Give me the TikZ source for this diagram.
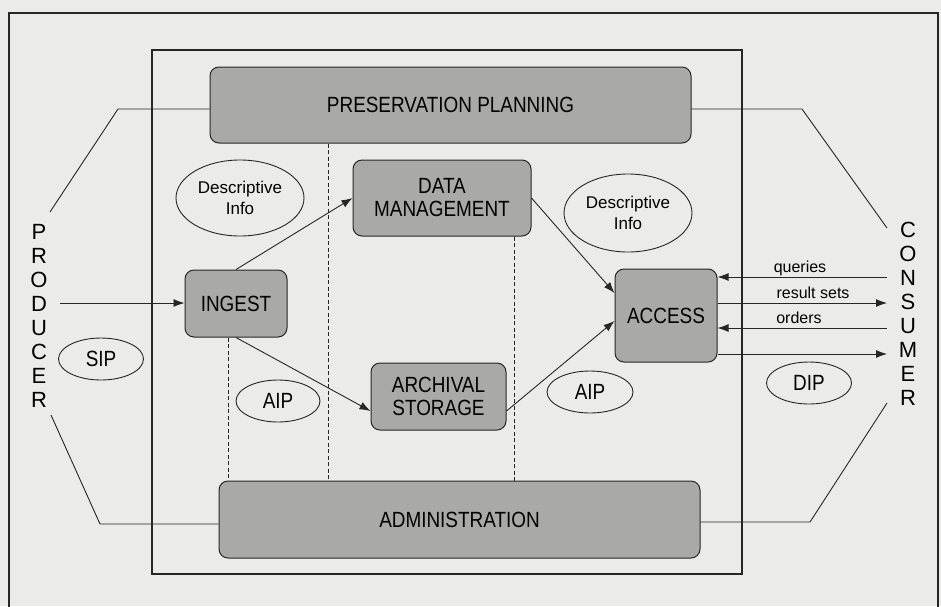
\documentclass[tikz,border=0pt]{standalone}
\usepackage{fontspec}
\setmainfont{Liberation Sans}
\newfontfamily\boxfont[FakeStretch=0.86]{Liberation Sans}
\usetikzlibrary{arrows.meta,shapes.geometric,calc}
\definecolor{bg}{HTML}{EBECEA}
\definecolor{boxgray}{HTML}{A9AAA7}
\definecolor{ink}{HTML}{262626}
\begin{document}
\begin{tikzpicture}[x=1pt,y=-1pt,
  proc/.style={draw=ink, fill=boxgray, rounded corners=9pt, line width=1pt,
    font=\boxfont\fontsize{22}{23}\selectfont, align=center, inner sep=0pt, text=black},
  pkg/.style={draw=ink, ellipse, line width=0.9pt, inner sep=0pt, text=black},
  pkgcap/.style={pkg, font=\boxfont\fontsize{22}{23}\selectfont},
  pkgtxt/.style={pkg, font=\fontsize{17}{21}\selectfont, align=center},
  flow/.style={draw=ink, line width=0.9pt, -{Latex[length=11pt,width=8pt]}},
  link/.style={draw=ink, line width=0.9pt},
  frame/.style={draw=ink, line width=1.1pt},
  sep/.style={draw=ink, line width=0.8pt, dash pattern=on 4pt off 2.5pt},
  actor/.style={font=\fontsize{22}{24}\selectfont, align=center, inner sep=0pt, text=black},
  lbl/.style={font=\fontsize{16}{18}\selectfont, inner sep=0pt, text=black}
]
\useasboundingbox (0,0) rectangle (941,606);
\fill[bg] (0,0) rectangle (941,606);
\clip (0,0) rectangle (941,606);

% frames
\draw[frame] (9,13) rectangle (938,640);
\draw[frame] (152,50) rectangle (742,574);

% functional entities
\node[proc, minimum width=481pt, minimum height=76pt] (pp) at (450.5,105) {PRESERVATION PLANNING};
\node[proc, minimum width=178pt, minimum height=76pt] (dm) at (442,198) {DATA\\MANAGEMENT};
\node[proc, minimum width=102pt, minimum height=67pt] (ingest) at (236,303.5) {INGEST};
\node[proc, minimum width=135pt, minimum height=67pt] (as) at (438.5,396.5) {ARCHIVAL\\STORAGE};
\node[proc, minimum width=102pt, minimum height=93pt] (access) at (666,315.5) {ACCESS};
\node[proc, minimum width=481pt, minimum height=77pt] (admin) at (459.5,519.5) {ADMINISTRATION};

% dashed separators
\coordinate (d1) at (328,0);
\coordinate (d2) at (228,0);
\coordinate (d3) at (514,0);
\draw[sep] (pp.south -| d1) -- (admin.north -| d1);
\draw[sep] (ingest.south -| d2) -- (admin.north -| d2);
\draw[sep] (dm.south -| d3) -- (admin.north -| d3);

% packages
\node[pkgtxt, minimum width=128pt, minimum height=76pt] (di1) at (240,198) {Descriptive\\Info};
\node[pkgtxt, minimum width=128pt, minimum height=78pt] (di2) at (628,213) {Descriptive\\Info};
\node[pkgcap, minimum width=85pt, minimum height=42pt] (sip) at (101,359) {SIP};
\node[pkgcap, minimum width=84pt, minimum height=42pt] (aip1) at (278,401) {AIP};
\node[pkgcap, minimum width=86pt, minimum height=42pt] (aip2) at (590,392) {AIP};
\node[pkgcap, minimum width=85pt, minimum height=42pt] (dip) at (809,383) {DIP};

% actors
\node[actor] (producer) at (39,316) {P\\R\\O\\D\\U\\C\\E\\R};
\node[actor] (consumer) at (908,314) {C\\O\\N\\S\\U\\M\\E\\R};

% producer / consumer links to planning and administration
\coordinate (ppl) at (118,109);
\coordinate (ppl2) at (50,212);
\coordinate (ppr) at (802,109);
\coordinate (ppr2) at (887,228);
\coordinate (adl) at (100,524);
\coordinate (adl2) at (51,415);
\coordinate (adr) at (810,522);
\coordinate (adr2) at (887,403);
\draw[link] (pp.west |- ppl) -- (ppl) -- (ppl2);
\draw[link] (pp.east |- ppr) -- (ppr) -- (ppr2);
\draw[link] (admin.west |- adl) -- (adl) -- (adl2);
\draw[link] (admin.east |- adr) -- (adr) -- (adr2);

% data flows
\coordinate (pin) at (60,303);
\draw[flow] (pin) -- (pin -| ingest.west);
\draw[flow] (ingest.north) -- (dm.west);
\draw[flow] (ingest.south) -- ($(as.west)+(0,14.5)$);
\draw[flow] ($(as.east)+(0,14.5)$) -- ($(access.west)+(0,5.5)$);
\draw[flow] (dm.east) -- ($(access.west)+(0,-22.5)$);

% consumer <-> access
\coordinate (cq) at (887,277);
\coordinate (cr) at (887,303);
\coordinate (co) at (887,328);
\coordinate (cd) at (887,354);
\draw[flow] (cq) -- (cq -| access.east);
\draw[flow] (access.east |- cr) -- (cr);
\draw[flow] (co) -- (co -| access.east);
\draw[flow] (access.east |- cd) -- (cd);
\node[lbl] (lq) at (800,268) {queries};
\node[lbl] (lr) at (813,293) {result sets};
\node[lbl] (lo) at (799,318) {orders};
\end{tikzpicture}
\end{document}
